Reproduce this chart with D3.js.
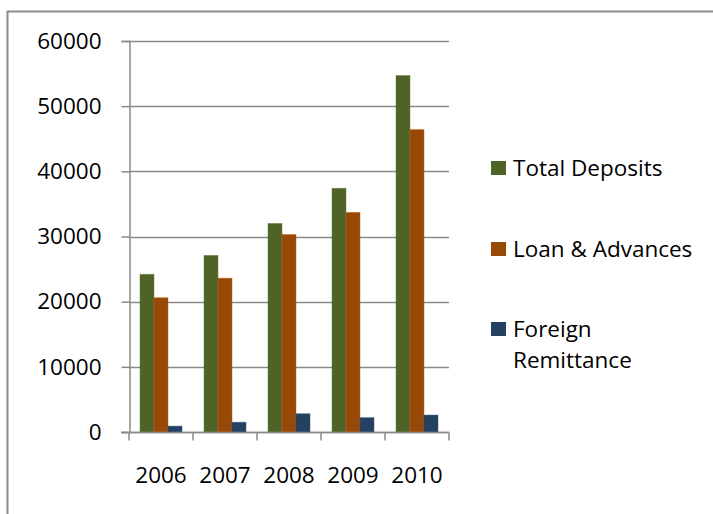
<!DOCTYPE html>
<html>
<head>
<meta charset="utf-8">
<script src="https://cdn.jsdelivr.net/npm/d3@7"></script>
<style>
  html, body { margin: 0; padding: 0; background: #fff; }
  svg { display: block; }
  text { font-family: "Open Sans", Lato, sans-serif; fill: #000; }
</style>
</head>
<body>
<svg id="chart" width="713" height="514"></svg>
<script>
// Yearly banking figures
const years = ["2006", "2007", "2008", "2009", "2010"];
const seriesNames = ["Total Deposits", "Loan & Advances", "Foreign Remittance"];
const totalDeposits = [24200, 27100, 32000, 37400, 54700];
const loanAdvances = [20600, 23600, 30300, 33700, 46400];
const foreignRemittance = [900, 1500, 2800, 2200, 2600];
const yTicks = [0, 10000, 20000, 30000, 40000, 50000, 60000];
const seriesColors = ["#4F6228", "#984807", "#254061"];

const FONT = "'Open Sans', Lato, sans-serif";
const FONT_SIZE = "22.5px";

const seriesValues = [totalDeposits, loanAdvances, foreignRemittance];
const rows = years.map((y, i) => ({
  year: y,
  values: seriesNames.map((name, s) => ({ name, s, value: seriesValues[s][i] }))
}));

const svg = d3.select("#chart");

// Chart frame (only top and left edges fall inside the page)
svg.append("rect")
  .attr("x", 7.5).attr("y", 11.5)
  .attr("width", 740).attr("height", 540)
  .attr("fill", "none")
  .attr("stroke", "#8c8c8c")
  .attr("stroke-width", 2);

const plot = { left: 129, right: 449, top: 41, bottom: 432 };

const x = d3.scaleBand()
  .domain(years)
  .range([plot.left, plot.right])
  .paddingInner(0.34375)
  .paddingOuter(0.171875);

const xSeries = d3.scaleBand()
  .domain(d3.range(seriesNames.length))
  .range([0, x.bandwidth()]);

const y = d3.scaleLinear()
  .domain([0, 60000])
  .range([plot.bottom, plot.top]);

// Horizontal gridlines
svg.append("g")
  .selectAll("line")
  .data(yTicks)
  .join("line")
  .attr("x1", plot.left)
  .attr("x2", plot.right)
  .attr("y1", d => Math.round(y(d)) + 0.5)
  .attr("y2", d => Math.round(y(d)) + 0.5)
  .attr("stroke", "#8a8a8a")
  .attr("stroke-width", 1.5);

// Y axis
const yAxis = svg.append("g")
  .attr("transform", `translate(${plot.left + 0.5},0)`)
  .call(d3.axisLeft(y).tickValues(yTicks).tickSize(8).tickPadding(20).tickFormat(d3.format("d")));
yAxis.select(".domain").attr("stroke", "#8a8a8a").attr("stroke-width", 1.5);
yAxis.selectAll(".tick line").attr("stroke", "#8a8a8a").attr("stroke-width", 1.5);
yAxis.selectAll(".tick text")
  .style("font-family", FONT)
  .style("font-size", FONT_SIZE)
  .attr("fill", "#000");

// Bars
svg.append("g")
  .selectAll("g")
  .data(rows)
  .join("g")
  .attr("transform", d => `translate(${x(d.year)},0)`)
  .selectAll("rect")
  .data(d => d.values)
  .join("rect")
  .attr("x", d => xSeries(d.s))
  .attr("width", xSeries.bandwidth())
  .attr("y", d => y(d.value))
  .attr("height", d => y(0) - y(d.value))
  .attr("fill", d => seriesColors[d.s])
  .attr("stroke", d => d3.color(seriesColors[d.s]).brighter(0.8))
  .attr("stroke-opacity", 0.6)
  .attr("stroke-width", 0.8);

// X axis with category boundary ticks
const xAxisG = svg.append("g")
  .attr("transform", `translate(0,${plot.bottom + 0.5})`);
xAxisG.append("line")
  .attr("x1", plot.left - 8).attr("x2", plot.right)
  .attr("stroke", "#8a8a8a").attr("stroke-width", 1.5);
const boundaries = years.map(yr => x(yr) - x.step() * x.paddingOuter()).concat([plot.right]);
xAxisG.selectAll("line.bound")
  .data(boundaries)
  .join("line")
  .attr("class", "bound")
  .attr("x1", d => d).attr("x2", d => d)
  .attr("y1", 0).attr("y2", 8)
  .attr("stroke", "#8a8a8a").attr("stroke-width", 1.5);
xAxisG.selectAll("text")
  .data(years)
  .join("text")
  .attr("x", d => x(d) + x.bandwidth() / 2)
  .attr("y", 42.5)
  .attr("dy", "0.35em")
  .attr("text-anchor", "middle")
  .style("font-size", FONT_SIZE)
  .text(d => d);

// Legend
const legendItems = [
  { lines: ["Total Deposits"], cy: 168 },
  { lines: ["Loan & Advances"], cy: 249 },
  { lines: ["Foreign", "Remittance"], cy: 329 }
];
const legend = svg.append("g");
legendItems.forEach((item, i) => {
  legend.append("rect")
    .attr("x", 491).attr("y", item.cy - 7)
    .attr("width", 15).attr("height", 14)
    .attr("fill", seriesColors[i]);
  const t = legend.append("text")
    .attr("x", 513)
    .attr("y", item.cy)
    .style("font-size", FONT_SIZE);
  item.lines.forEach((ln, k) => {
    t.append("tspan")
      .attr("x", 513)
      .attr("dy", k === 0 ? "0.35em" : "1.38em")
      .text(ln);
  });
});
</script>
</body>
</html>
